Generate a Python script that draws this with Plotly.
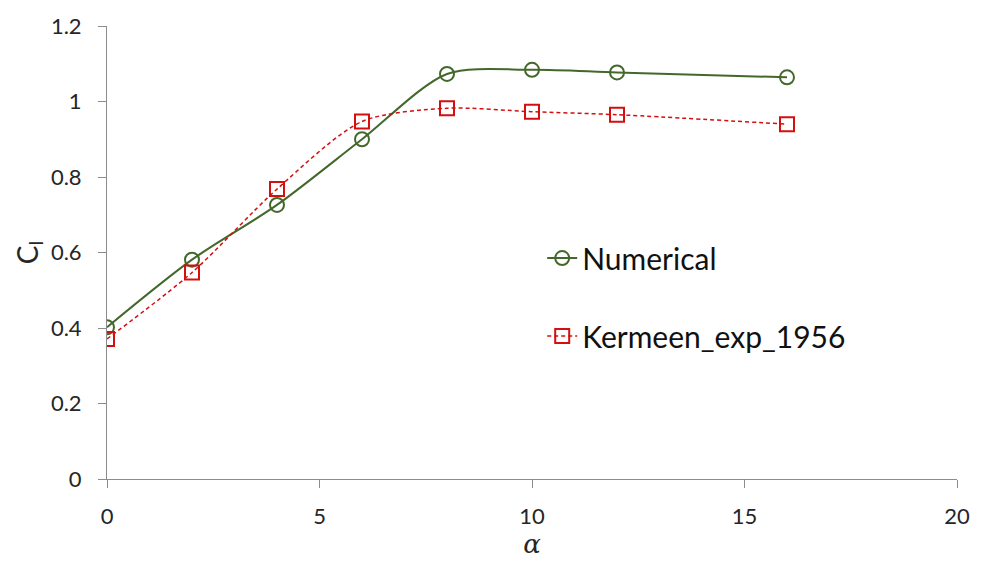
import plotly.graph_objects as go

alpha = [0, 2, 4, 6, 8, 10, 12, 16]
cl_numerical = [0.402, 0.581, 0.726, 0.900, 1.073, 1.084, 1.077, 1.064]
cl_kermeen = [0.371, 0.547, 0.768, 0.947, 0.982, 0.973, 0.965, 0.940]

green = "#44682c"
red = "#d40f0f"
font = "Lato"

fig = go.Figure()
fig.add_trace(go.Scatter(
    x=alpha, y=cl_numerical, name="Numerical", mode="lines+markers",
    line=dict(color=green, width=2, shape="spline", smoothing=0.8),
    marker=dict(symbol="circle-open", size=14, color=green, line=dict(width=2, color=green)),
    legendgroup="a",
))
fig.add_trace(go.Scatter(
    x=alpha, y=cl_kermeen, name="Kermeen_exp_1956", mode="lines+markers",
    line=dict(color=red, width=1.5, dash="4px,3px", shape="spline", smoothing=0.8),
    marker=dict(symbol="square-open", size=14, color=red, line=dict(width=2, color=red)),
    legendgroup="b",
))

axis_common = dict(
    showgrid=False, zeroline=False, showline=True, linecolor="#8c8c8c", linewidth=1,
    ticks="outside", ticklen=8, tickcolor="#8c8c8c", tickwidth=1,
    tickfont=dict(family=font, size=22, color="#262626"),
)
fig.update_xaxes(range=[0, 20], tickvals=[0, 5, 10, 15, 20], ticklabelstandoff=10,
                 title=dict(text="<i>α</i>", font=dict(family="DejaVu Serif", size=26, color="#262626"), standoff=2),
                 **axis_common)
fig.update_yaxes(range=[0, 1.2], tickvals=[0, 0.2, 0.4, 0.6, 0.8, 1, 1.2], ticklabelstandoff=12,
                 title=dict(text="C<sub>l</sub>", font=dict(family=font, size=28, color="#262626"), standoff=4),
                 **axis_common)

fig.update_layout(
    width=988, height=562,
    margin=dict(l=107, r=31, t=20, b=79),
    plot_bgcolor="white", paper_bgcolor="white",
    showlegend=True,
    legend=dict(x=0.512, y=0.545, xanchor="left", yanchor="top", tracegroupgap=36,
                font=dict(family=font, size=30, color="#111111"),
                bgcolor="rgba(0,0,0,0)", itemwidth=30),
)

fig.write_html("out.html")
